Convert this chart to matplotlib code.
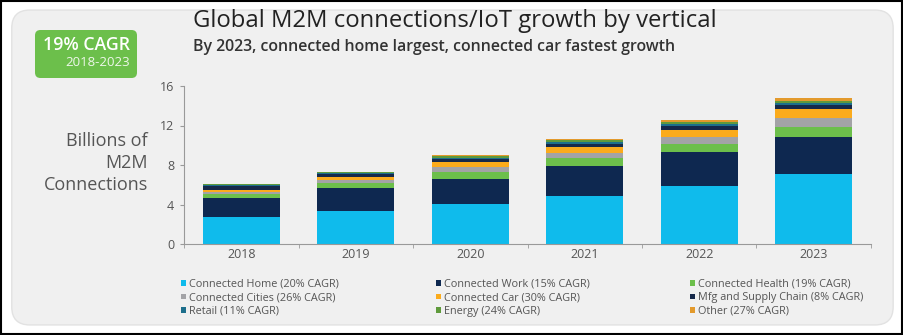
import numpy as np
import matplotlib
matplotlib.use("Agg")
import matplotlib.pyplot as plt
from matplotlib.patches import FancyBboxPatch, Rectangle

plt.rcParams['font.family'] = ['Open Sans', 'DejaVu Sans']

years = ['2018', '2019', '2020', '2021', '2022', '2023']

# billions of connections per vertical, bottom of the stack first
home = [2.76, 3.34, 4.02, 4.89, 5.87, 7.09]
work = [1.90, 2.30, 2.56, 3.04, 3.40, 3.78]
health = [0.37, 0.50, 0.75, 0.75, 0.85, 0.95]
cities = [0.25, 0.33, 0.45, 0.57, 0.75, 0.95]
car = [0.15, 0.34, 0.52, 0.62, 0.72, 0.95]
mfg = [0.40, 0.28, 0.30, 0.30, 0.35, 0.32]
retail = [0.12, 0.12, 0.15, 0.18, 0.22, 0.22]
energy = [0.08, 0.06, 0.12, 0.16, 0.22, 0.25]
other = [0.07, 0.06, 0.10, 0.15, 0.20, 0.25]

series = [home, work, health, cities, car, mfg, retail, energy, other]
labels = ['Connected Home (20% CAGR)', 'Connected Work (15% CAGR)',
          'Connected Health (19% CAGR)', 'Connected Cities (26% CAGR)',
          'Connected Car (30% CAGR)', 'Mfg and Supply Chain (8% CAGR)',
          'Retail (11% CAGR)', 'Energy (24% CAGR)', 'Other (27% CAGR)']
colors = ['#0fbbec', '#0e2850', '#6cbf4b', '#a3a3a6', '#fbab1c',
          '#16294a', '#1d6f8c', '#5f9a3c', '#e39a2c']

fig = plt.figure(figsize=(9.04, 3.35), dpi=100, facecolor='white')

# black frame and the rounded grey card behind everything
fig.patches.append(Rectangle((0.001, 0.002), 0.997, 0.995, transform=fig.transFigure,
                             fill=False, edgecolor='black', linewidth=1.5, zorder=-10))
fig.patches.append(FancyBboxPatch((0.013, 0.03), 0.975, 0.94, transform=fig.transFigure,
                                  boxstyle='round,pad=0,rounding_size=0.02',
                                  facecolor='#f0f0f0', edgecolor='#e2e2e2',
                                  linewidth=1, zorder=-10, mutation_aspect=2.7))

# green CAGR badge
fig.patches.append(FancyBboxPatch((35 / 904, 1 - 78 / 335), 102 / 904, 48 / 335,
                                  transform=fig.transFigure,
                                  boxstyle='round,pad=0,rounding_size=0.006',
                                  facecolor='#6cbf4b', edgecolor='none', zorder=-5,
                                  mutation_aspect=2.7))
fig.text(130 / 904, 1 - 45 / 335, '19% CAGR', color='white', fontsize=12.8,
         ha='right', va='center', fontweight='semibold')
fig.text(130 / 904, 1 - 63 / 335, '2018-2023', color='#eef7ea', fontsize=9.5,
         ha='right', va='center')

fig.text(193 / 904, 1 - 21 / 335, 'Global M2M connections/IoT growth by vertical',
         fontsize=17.2, color='#222222', ha='left', va='center')
fig.text(193 / 904, 1 - 47 / 335,
         'By 2023, connected home largest, connected car fastest growth',
         fontsize=11.4, color='#333333', ha='left', va='center', fontweight='semibold')

ax = fig.add_axes([184 / 904, 91 / 335, 687 / 904, 158 / 335])
ax.set_facecolor('#f0f0f0')

x = np.arange(len(years))
bottom = np.zeros(len(years))
bars = []
for vals, lab, col in zip(series, labels, colors):
    b = ax.bar(x, vals, width=0.67, bottom=bottom, color=col, label=lab)
    bars.append(b)
    bottom += np.array(vals)

ax.set_xlim(-0.5, len(years) - 0.5)
ax.set_ylim(0, 16)
ax.set_yticks([0, 4, 8, 12, 16])
ax.set_xticks(x)
ax.set_xticklabels(years)
ax.set_xticks(np.arange(-0.5, len(years), 1.0), minor=True)
ax.tick_params(axis='x', which='major', length=0, pad=3, labelsize=9, labelcolor='#555555')
ax.tick_params(axis='x', which='minor', length=3, color='#999999', direction='out')
ax.tick_params(axis='y', length=3, color='#999999', labelsize=9, labelcolor='#555555', pad=4)
for side in ['top', 'right']:
    ax.spines[side].set_visible(False)
for side in ['left', 'bottom']:
    ax.spines[side].set_color('#999999')
    ax.spines[side].set_linewidth(0.8)

fig.text(148 / 904, 1 - 163 / 335, 'Billions of\nM2M\nConnections', fontsize=13,
         color='#555555', ha='right', va='center', linespacing=1.28)

# legend: three columns, each filled top to bottom with one row of the grid
col_x = [181, 436, 690]
for c in range(3):
    idx = [c, c + 3, c + 6]
    leg = fig.legend([bars[i] for i in idx], [labels[i] for i in idx], loc='upper left',
                     bbox_to_anchor=(col_x[c] / 904, 1 - 279 / 335), frameon=False,
                     fontsize=7.8, labelcolor='#555555', handlelength=0.45,
                     handleheight=0.45, handletextpad=0.3,
                     labelspacing=0.22, borderaxespad=0, borderpad=0)

fig.savefig('out.png', dpi=100, facecolor='white')
